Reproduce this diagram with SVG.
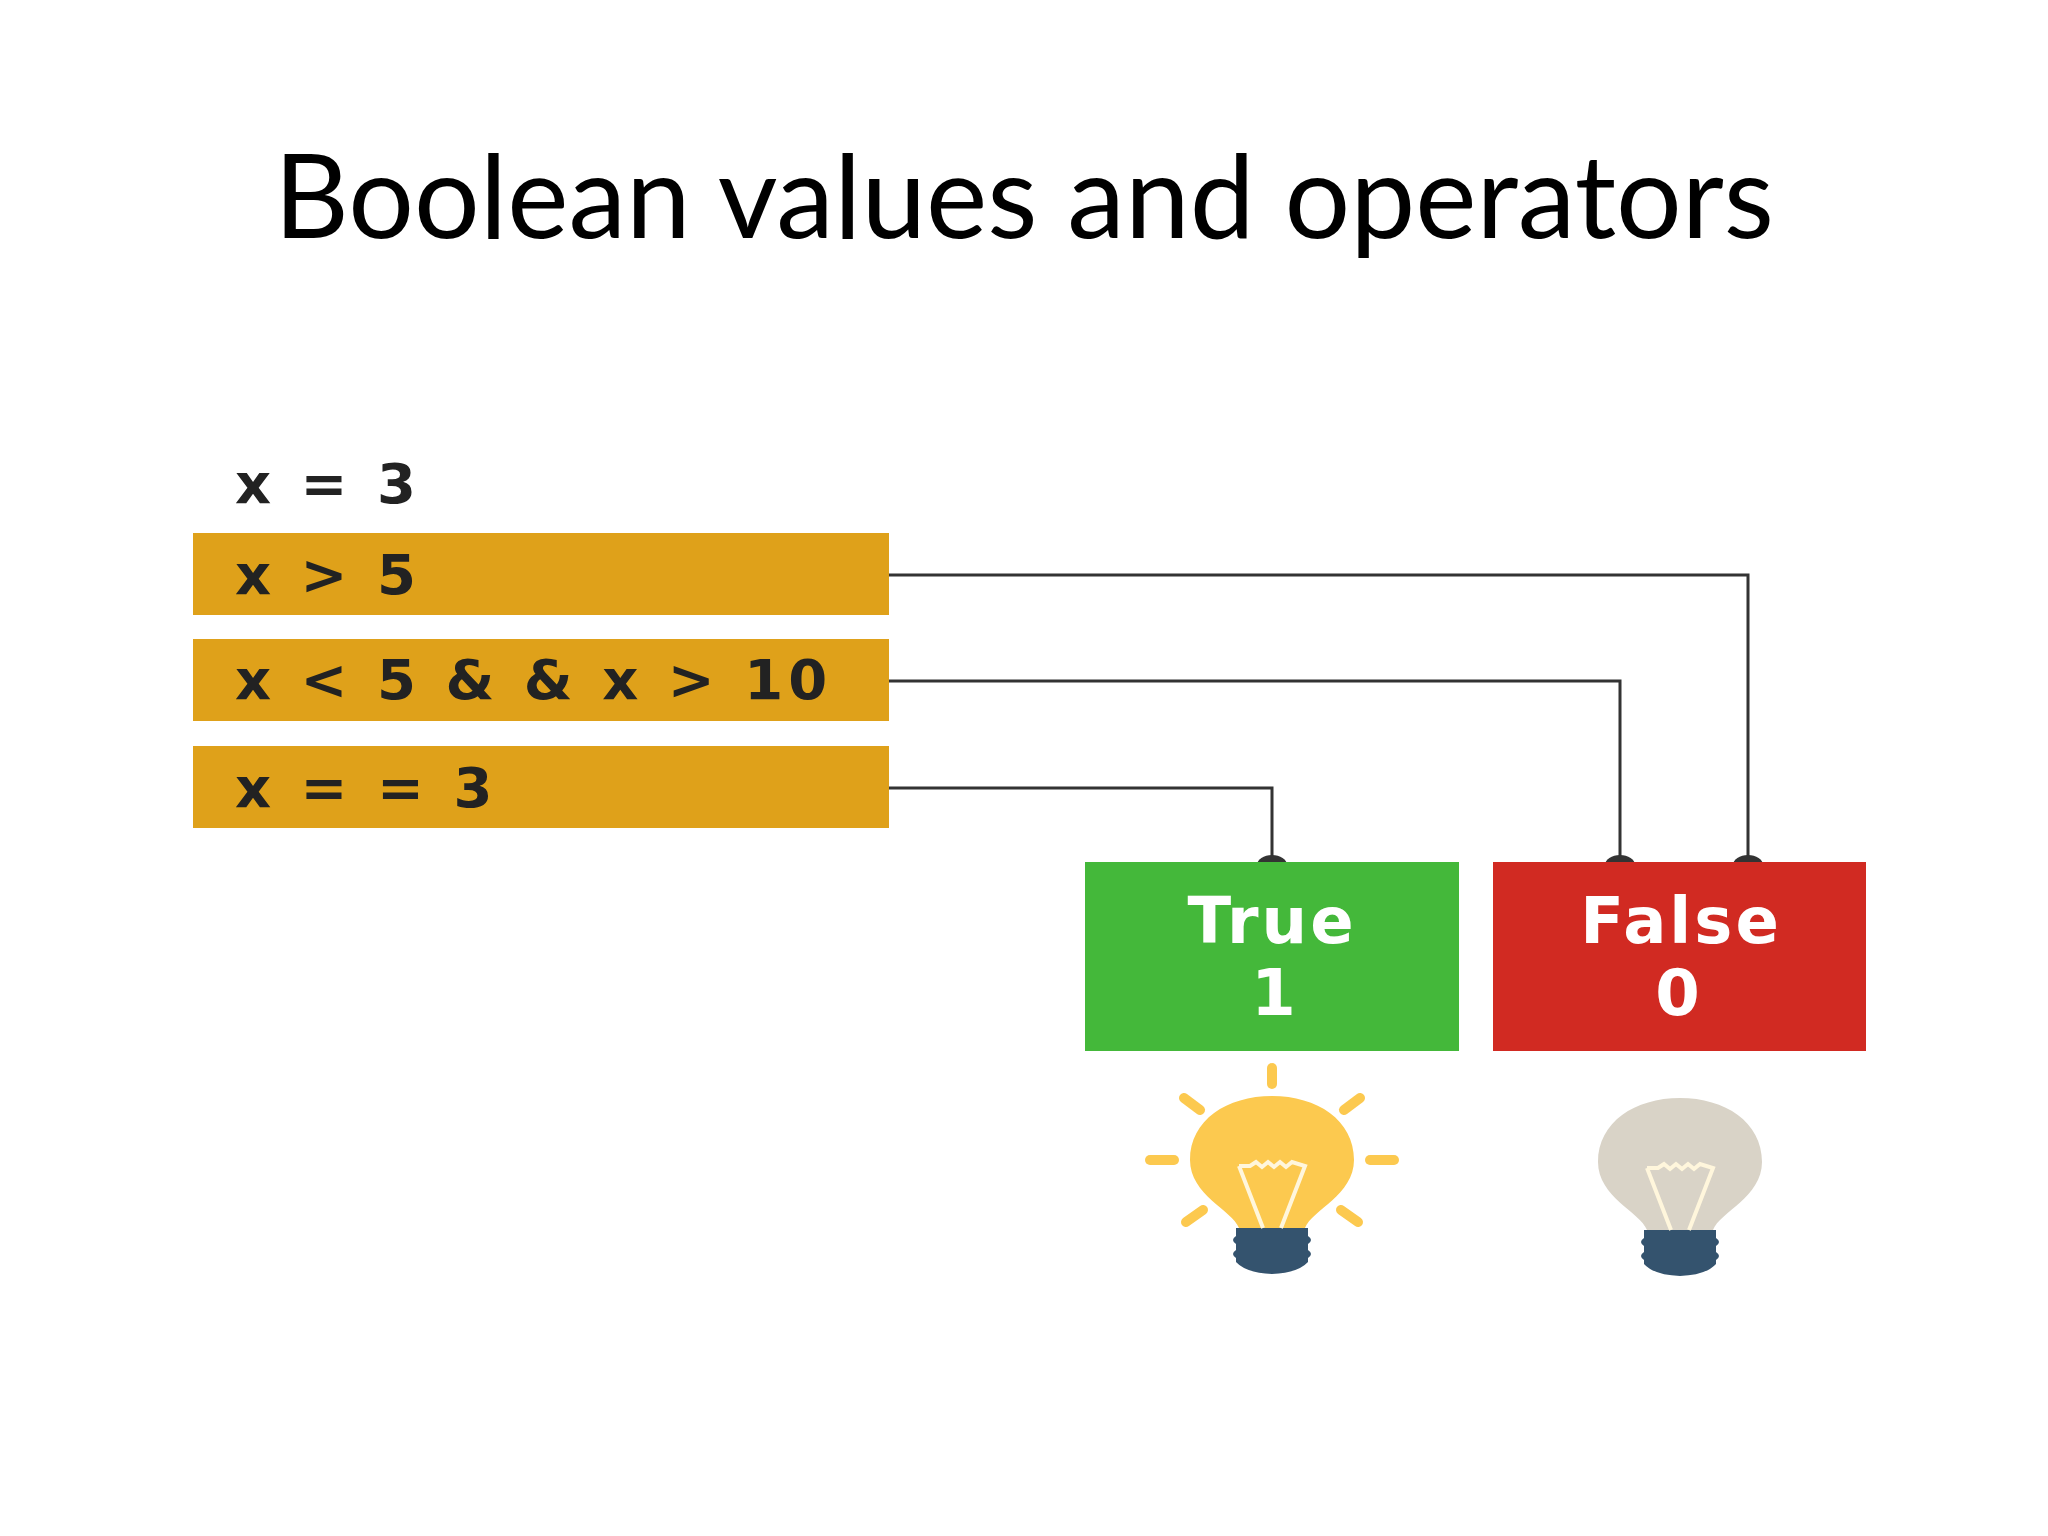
<svg xmlns="http://www.w3.org/2000/svg" width="2048" height="1536" viewBox="0 0 2048 1536">
<style>
.code{font-family:"DejaVu Sans","Liberation Sans",sans-serif;font-weight:bold;font-size:56px;letter-spacing:5px;fill:#222}
.bar{fill:#DFA11A}
.lbl{font-family:"DejaVu Sans","Liberation Sans",sans-serif;font-weight:bold;font-size:64px;letter-spacing:3px;fill:#fff;text-anchor:middle}
.conn{fill:none;stroke:#333;stroke-width:3}
.ray{stroke:#FCC94F;stroke-width:10;stroke-linecap:round}
.fil{fill:none;stroke:#FFF6DC;stroke-width:4}
</style>
<defs>
<path id="globe" d="M-33,68 C-40,50 -82,35 -82,0 C-82,-40 -45,-64 0,-64 C45,-64 82,-40 82,0 C82,35 40,50 33,68 Z"/>
<g id="bulb-base">
<path d="M-36,68 H36 V76 Q42,80 36,84 V90 Q42,94 36,98 V102 Q26,113 0,114 Q-26,113 -36,102 V98 Q-42,94 -36,90 V84 Q-42,80 -36,76 Z" fill="#34536E"/>
<path d="M-33,6 L-22,6 L-16,2 L-10,7 L-4,2 L2,7 L8,2 L14,7 L20,2 L33,6 L9,68 M-33,6 L-9,68" class="fil"/>
</g>
</defs>
<rect width="2048" height="1536" fill="#fff"/>
<text x="1024" y="238" font-family="Lato,'Open Sans',sans-serif" font-size="116" text-anchor="middle" fill="#000" textLength="1500">Boolean values and operators</text>
<g id="x3"><text class="code" x="235" y="503">x = 3</text></g>
<g id="bar1"><rect class="bar" x="193" y="533" width="696" height="82"/><text class="code" x="235" y="594">x &gt; 5</text></g>
<g id="bar2"><rect class="bar" x="193" y="639" width="696" height="82"/><text class="code" x="235" y="699">x &lt; 5 &amp; &amp; x &gt; 10</text></g>
<g id="bar3"><rect class="bar" x="193" y="746" width="696" height="82"/><text class="code" x="235" y="807">x = = 3</text></g>
<g id="connectors">
<path class="conn" d="M889,575 H1748 V865"/>
<path class="conn" d="M889,681 H1620 V865"/>
<path class="conn" d="M889,788 H1272 V865"/>
<ellipse cx="1748" cy="865" rx="15" ry="10" fill="#333"/>
<ellipse cx="1620" cy="865" rx="15" ry="10" fill="#333"/>
<ellipse cx="1272" cy="865" rx="15" ry="10" fill="#333"/>
</g>
<g id="true"><rect x="1085" y="862" width="374" height="189" fill="#44B83A"/><text class="lbl" x="1272" y="943">True</text><text class="lbl" x="1275" y="1015">1</text></g>
<g id="false"><rect x="1493" y="862" width="373" height="189" fill="#D12A22"/><text class="lbl" x="1681" y="943">False</text><text class="lbl" x="1679" y="1015">0</text></g>
<g id="bulb-on" transform="translate(1272,1160)">
<line class="ray" x1="0" y1="-92" x2="0" y2="-76"/>
<line class="ray" x1="-122" y1="0" x2="-98" y2="0"/>
<line class="ray" x1="98" y1="0" x2="122" y2="0"/>
<line class="ray" x1="-88" y1="-62" x2="-72" y2="-50"/>
<line class="ray" x1="88" y1="-62" x2="72" y2="-50"/>
<line class="ray" x1="-86" y1="62" x2="-69" y2="50"/>
<line class="ray" x1="86" y1="62" x2="69" y2="50"/>
<use href="#globe" fill="#FCC94F"/>
<use href="#bulb-base"/>
</g>
<g id="bulb-off" transform="translate(1680,1162)">
<use href="#globe" fill="#D9D3C7"/>
<use href="#bulb-base"/>
</g>
</svg>
